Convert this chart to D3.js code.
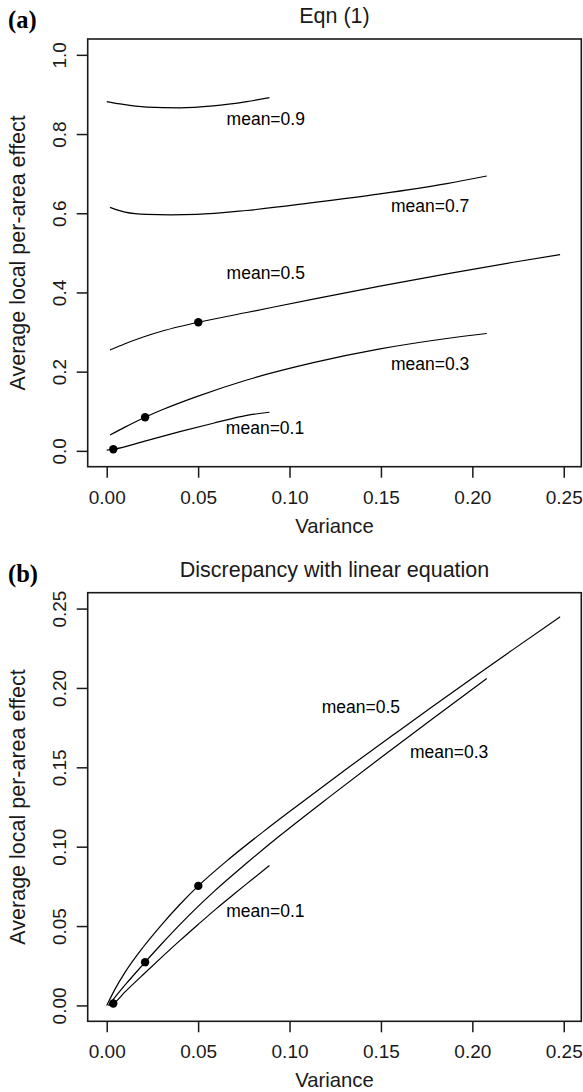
<!DOCTYPE html>
<html><head><meta charset="utf-8">
<script src="https://cdn.jsdelivr.net/npm/d3@7"></script>
<style>
html,body{margin:0;padding:0;background:#fff;}
svg{display:block;font-family:"Liberation Sans",Arial,Helvetica,sans-serif;}
</style></head><body>
<svg id="chart" width="583" height="1092"></svg>
<script>
// ---------------- data ----------------
const xTicks = [0, 0.05, 0.10, 0.15, 0.20, 0.25];
const yTicksA = [0, 0.2, 0.4, 0.6, 0.8, 1.0];
const yTicksB = [0, 0.05, 0.10, 0.15, 0.20, 0.25];
const meanLabels = ["mean=0.1", "mean=0.3", "mean=0.5", "mean=0.7", "mean=0.9"];

// Panel (a): Eqn (1)  [variance, average local per-area effect]
const a_m01 = [[0,0.002],[0.0036,0.004],[0.0219,0.026],[0.040,0.0485],[0.0583,0.0697],[0.0766,0.0895],[0.089,0.0975]];
const a_m03 = [[0.0018,0.040],[0.010,0.060],[0.021,0.085],[0.031,0.105],[0.0492,0.137],[0.0766,0.179],[0.113,0.2227],[0.1495,0.2574],[0.186,0.2837],[0.2079,0.2964]];
const a_m05 = [[0.0018,0.2548],[0.010,0.2705],[0.020,0.2875],[0.030,0.3020],[0.040,0.3140],[0.0501,0.3247],[0.0766,0.3493],[0.113,0.3832],[0.1495,0.4161],[0.186,0.4471],[0.2224,0.4762],[0.248,0.4954]];
const a_m07 = [[0.0018,0.615],[0.010,0.603],[0.0219,0.597],[0.035,0.596],[0.0492,0.597],[0.0766,0.607],[0.113,0.627],[0.1495,0.649],[0.186,0.675],[0.2079,0.694]];
const a_m09 = [[0,0.882],[0.0073,0.876],[0.0219,0.868],[0.040,0.866],[0.0583,0.871],[0.0766,0.882],[0.089,0.892]];
const a_dots = [[0.0036,0.004],[0.021,0.085],[0.0501,0.3247]];
const a_labelPos = [[0.0866,0.058],[0.1769,0.2197],[0.087,0.449],[0.1769,0.619],[0.087,0.838]];

// Panel (b): Discrepancy with linear equation
const b_m01 = [[0.001,0],[0.0036,0.0012],[0.010,0.0085],[0.020,0.0195],[0.030,0.0303],[0.040,0.0408],[0.050,0.051],[0.060,0.061],[0.070,0.0705],[0.080,0.0798],[0.089,0.0882]];
const b_m03 = [[0.001,0],[0.006,0.00725],[0.011,0.01415],[0.016,0.02075],[0.021,0.02725],[0.030,0.0387],[0.040,0.0509],[0.050,0.0624],[0.0583,0.0714],[0.0766,0.0897],[0.0948,0.1070],[0.1222,0.1317],[0.1495,0.1557],[0.1677,0.1715],[0.186,0.1872],[0.2079,0.2060]];
const b_m05 = [[0,0],[0.005,0.0112],[0.010,0.0208],[0.020,0.0368],[0.030,0.0508],[0.040,0.0636],[0.0501,0.0753],[0.0674,0.0927],[0.0857,0.1095],[0.1039,0.1255],[0.1313,0.1491],[0.1586,0.1720],[0.1769,0.1872],[0.2042,0.2096],[0.2224,0.2243],[0.248,0.2448]];
const b_dots = [[0.0036,0.0012],[0.021,0.02725],[0.0501,0.0753]];
const b_labelPos = [[0.0868,0.0597],[0.1873,0.1595],[0.139,0.1883]];

// ---------------- drawing ----------------
const svg = d3.select("#chart");
const INK = "#1a1a1a";

function drawPanel(cfg) {
  const x = d3.scaleLinear().domain([-0.0104, 0.2596]).range([cfg.left, cfg.right]);
  const y = d3.scaleLinear().domain(cfg.yDomain).range([cfg.bottom, cfg.top]);
  const g = svg.append("g");

  // y axis
  const ya = g.append("g").attr("transform", `translate(${cfg.left},0)`)
    .call(d3.axisLeft(y).tickValues(cfg.yTicks).tickFormat(cfg.yFmt).tickSize(11).tickSizeOuter(0));
  ya.select(".domain").remove();
  ya.selectAll(".tick line").attr("stroke", INK).attr("stroke-width", 1.5);
  ya.selectAll(".tick text")
    .attr("x", null).attr("dy", null).attr("y", null)
    .attr("transform", "translate(-21.7,0) rotate(-90)")
    .attr("text-anchor", "middle")
    .attr("fill", INK)
    .style("font-size", "19px");

  // x axis
  const xa = g.append("g").attr("transform", `translate(0,${cfg.bottom})`)
    .call(d3.axisBottom(x).tickValues(xTicks).tickFormat(d3.format(".2f")).tickSize(11).tickSizeOuter(0));
  xa.select(".domain").remove();
  xa.selectAll(".tick line").attr("stroke", INK).attr("stroke-width", 1.5);
  xa.selectAll(".tick text").attr("y", 37).attr("dy", null)
    .attr("fill", INK).style("font-size", "19px");

  // box
  g.append("rect").attr("x", cfg.left).attr("y", cfg.top)
    .attr("width", cfg.right - cfg.left).attr("height", cfg.bottom - cfg.top)
    .attr("fill", "none").attr("stroke", INK).attr("stroke-width", 1.6);

  // curves
  const line = d3.line().x(d => x(d[0])).y(d => y(d[1])).curve(d3.curveMonotoneX);
  g.selectAll("path.curve").data(cfg.curves).enter().append("path")
    .attr("class", "curve").attr("d", line)
    .attr("fill", "none").attr("stroke", "#000").attr("stroke-width", 1.2);

  // dots
  g.selectAll("circle.dot").data(cfg.dots).enter().append("circle")
    .attr("cx", d => x(d[0])).attr("cy", d => y(d[1])).attr("r", 4.2).attr("fill", "#000");

  // curve labels
  g.selectAll("text.lab").data(cfg.labels).enter().append("text")
    .attr("x", d => x(d.pos[0])).attr("y", d => y(d.pos[1])).attr("dy", "0.35em")
    .attr("text-anchor", "middle").style("font-size", "17.5px").attr("fill", "#000")
    .text(d => d.text);

  // title
  g.append("text").attr("x", (cfg.left + cfg.right) / 2).attr("y", cfg.top - 15.7)
    .attr("text-anchor", "middle").style("font-size", "21.5px").attr("fill", INK).text(cfg.title);
  // panel tag
  g.append("text").attr("x", 8).attr("y", cfg.top - 11)
    .style("font-family", "'Liberation Serif','Times New Roman',serif")
    .style("font-weight", "bold").style("font-size", "24.5px").attr("fill", "#000").text(cfg.tag);
  // axis labels
  g.append("text").attr("x", (cfg.left + cfg.right) / 2).attr("y", cfg.bottom + 66)
    .attr("text-anchor", "middle").style("font-size", "20.3px").attr("fill", INK).text("Variance");
  g.append("text")
    .attr("transform", `translate(25,${(cfg.top + cfg.bottom) / 2}) rotate(-90)`)
    .attr("text-anchor", "middle").style("font-size", "21.5px").attr("fill", INK)
    .text("Average local per-area effect");
}

drawPanel({
  left: 87.7, right: 581.3, top: 39, bottom: 466.7,
  yDomain: [-0.04, 1.04], yTicks: yTicksA, yFmt: d3.format(".1f"),
  curves: [a_m01, a_m03, a_m05, a_m07, a_m09],
  dots: a_dots,
  labels: a_labelPos.map((p, i) => ({pos: p, text: meanLabels[i]})),
  title: "Eqn (1)", tag: "(a)"
});

drawPanel({
  left: 87.7, right: 581.3, top: 592.7, bottom: 1021.3,
  yDomain: [-0.01, 0.26], yTicks: yTicksB, yFmt: d3.format(".2f"),
  curves: [b_m01, b_m03, b_m05],
  dots: b_dots,
  labels: b_labelPos.map((p, i) => ({pos: p, text: meanLabels[i]})),
  title: "Discrepancy with linear equation", tag: "(b)"
});
</script>
</body></html>
